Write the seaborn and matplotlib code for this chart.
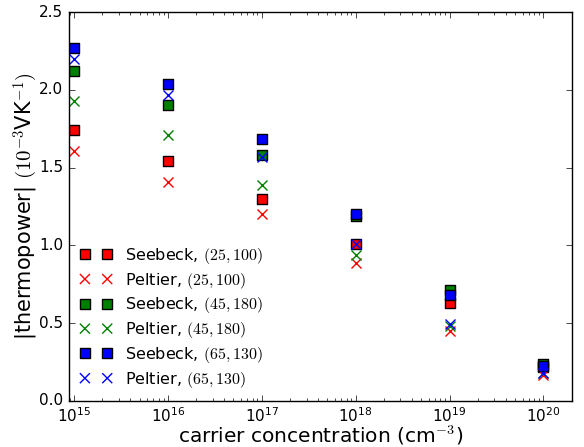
import numpy as np
import pandas as pd
import seaborn as sns
import matplotlib.pyplot as plt

# carrier concentrations (cm^-3)
conc = [1e15, 1e16, 1e17, 1e18, 1e19, 1e20]

# |thermopower| in 1e-3 V/K
seebeck_25_100 = [1.74, 1.54, 1.30, 1.01, 0.63, 0.22]
peltier_25_100 = [1.61, 1.41, 1.20, 0.89, 0.45, 0.17]
seebeck_45_180 = [2.12, 1.90, 1.58, 1.19, 0.715, 0.24]
peltier_45_180 = [1.93, 1.71, 1.39, 0.94, 0.48, 0.18]
seebeck_65_130 = [2.27, 2.04, 1.685, 1.205, 0.68, 0.225]
peltier_65_130 = [2.20, 1.97, 1.57, 1.01, 0.495, 0.18]

series = [
    ('Seebeck', '(25, 100)', seebeck_25_100, 's', 'red'),
    ('Peltier', '(25, 100)', peltier_25_100, 'x', 'red'),
    ('Seebeck', '(45, 180)', seebeck_45_180, 's', 'green'),
    ('Peltier', '(45, 180)', peltier_45_180, 'x', 'green'),
    ('Seebeck', '(65, 130)', seebeck_65_130, 's', 'blue'),
    ('Peltier', '(65, 130)', peltier_65_130, 'x', 'blue'),
]

plt.style.use('classic')
plt.rcParams['mathtext.fontset'] = 'cm'
plt.rcParams['font.family'] = ['DejaVu Sans']

fig = plt.figure(figsize=(5.84, 4.47), dpi=100)
ax = fig.add_axes([0.118, 0.103, 0.861, 0.870])

for kind, params, vals, mk, col in series:
    df = pd.DataFrame({'n': conc, 'S': vals})
    a, b = params.strip('()').split(', ')
    label = kind + ', $(%s, %s)$' % (a, b)
    if mk == 's':
        sns.scatterplot(data=df, x='n', y='S', marker='s', color=col,
                        edgecolor='black', linewidth=1.0, s=52, label=label, ax=ax)
    else:
        sns.scatterplot(data=df, x='n', y='S', marker='x', color=col,
                        linewidth=1.0, s=52, label=label, ax=ax)

ax.set_xscale('log')
ax.set_xlim(8.85e14, 2e20)
ax.set_ylim(0, 2.5)
ax.set_yticks([0, 0.5, 1.0, 1.5, 2.0, 2.5])
ax.set_xticks([1e15, 1e16, 1e17, 1e18, 1e19, 1e20])
ax.tick_params(labelsize=11)
ax.set_xlabel('carrier concentration (cm$^{-3}$)', fontsize=14.5, labelpad=-1)
ax.set_ylabel('|thermopower| $(10^{-3}$VK$^{-1})$', fontsize=15, labelpad=-1)

ax.legend(loc='lower left', frameon=False, scatterpoints=2, scatteryoffsets=[0.5],
          fontsize=11.5, handlelength=2.0, labelspacing=0.3, borderaxespad=0.3)

fig.savefig('out.png', dpi=100)
